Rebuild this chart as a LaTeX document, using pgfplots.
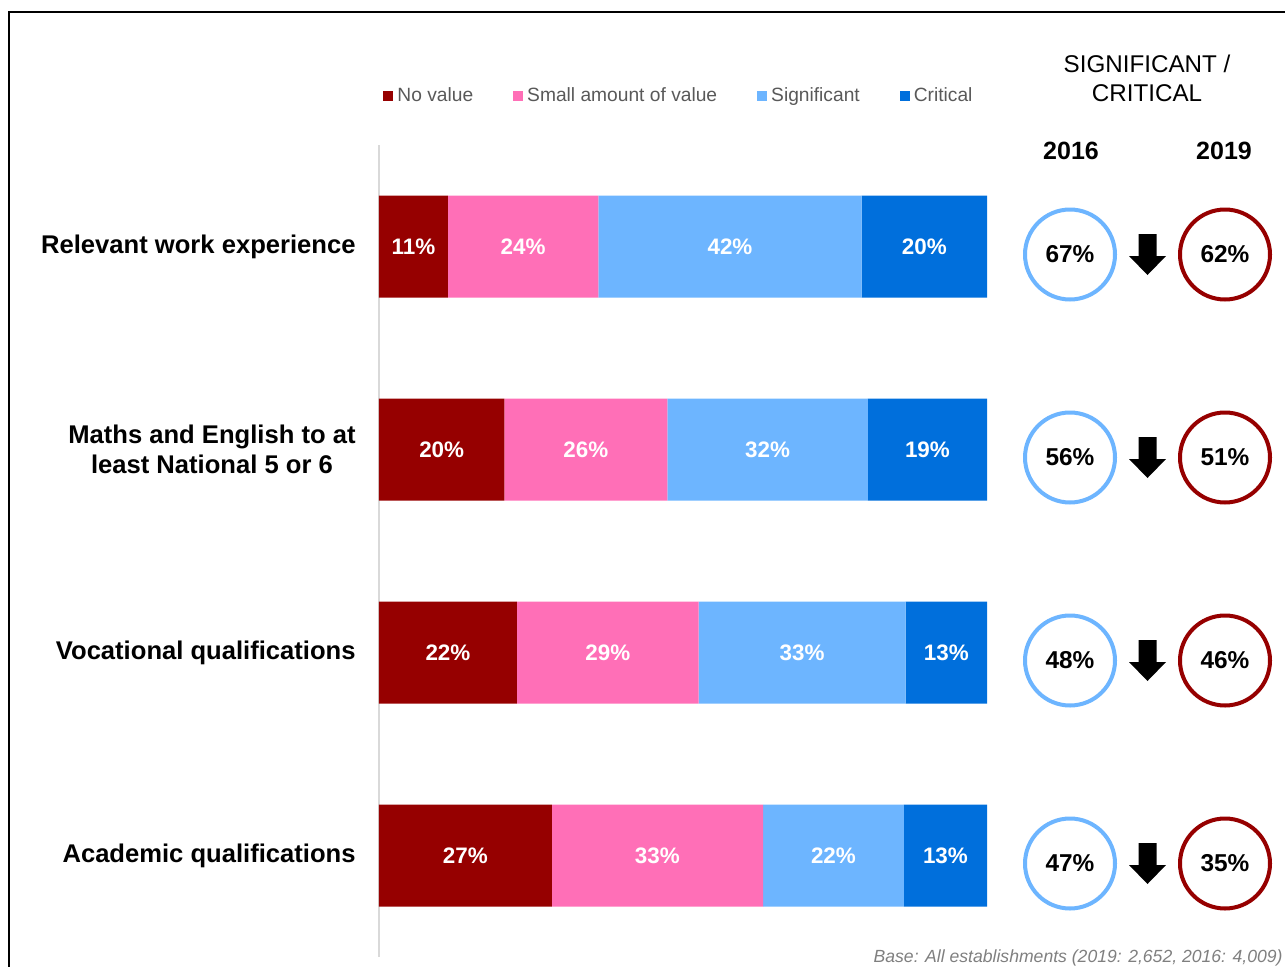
\documentclass[border=0pt]{standalone}
\usepackage{fontspec}
\setmainfont{Liberation Sans}
\usepackage{pgfplots}
\pgfplotsset{compat=1.18}

\definecolor{novalue}{HTML}{960000}
\definecolor{smallval}{HTML}{FF6FB7}
\definecolor{signif}{HTML}{6DB5FF}
\definecolor{critical}{HTML}{006FDC}
\definecolor{legtext}{HTML}{595959}
\definecolor{basetext}{HTML}{7F7F7F}

% thick down arrow between the two circles
\pgfdeclareplotmark{bigdown}{%
  \pgfpathmoveto{\pgfpoint{-4.5pt}{10.25pt}}%
  \pgfpathlineto{\pgfpoint{4.5pt}{10.25pt}}%
  \pgfpathlineto{\pgfpoint{4.5pt}{-0.75pt}}%
  \pgfpathlineto{\pgfpoint{9.25pt}{-0.75pt}}%
  \pgfpathlineto{\pgfpoint{0pt}{-10.25pt}}%
  \pgfpathlineto{\pgfpoint{-9.25pt}{-0.75pt}}%
  \pgfpathlineto{\pgfpoint{-4.5pt}{-0.75pt}}%
  \pgfpathclose
  \pgfusepathqfill}

\begin{document}
\begin{tikzpicture}
\path[use as bounding box] (0,0) rectangle (642.5pt,-483.5pt);
\draw[line width=1pt] (4.5pt,-490pt) -- (4.5pt,-6.25pt) -- (650pt,-6.25pt);

% shares of each bar (labels give the rounded survey figures)
\begin{axis}[
    at={(189.5pt,-72.5pt)}, anchor=north west,
    scale only axis, width=304pt, height=406pt,
    xbar stacked, bar width=51pt,
    xmin=0, xmax=100, ymin=-0.5, ymax=3.5, y dir=reverse,
    axis x line=none, axis y line*=left,
    y axis line style={-, draw=gray!30, line width=0.8pt},
    ytick={0,1,2,3},
    yticklabels={Relevant work experience, {Maths and English to at\\least National 5 or 6}, Vocational qualifications, Academic qualifications},
    major tick length=0pt,
    yticklabel style={align=center, font=\bfseries\fontsize{12.8}{15}\selectfont, inner sep=0pt, xshift=-11.5pt},
    point meta=explicit symbolic,
    nodes near coords={\pgfplotspointmeta},
    nodes near coords align=center,
    every node near coord/.append style={anchor=center, text=white, font=\bfseries\fontsize{11.2}{13}\selectfont},
    legend image code/.code={\fill[#1] (0pt,-2.5pt) rectangle (5pt,2.5pt);},
    legend style={at={(0.495,1.06)}, anchor=center, draw=none, fill=none, legend columns=-1,
        font=\fontsize{9.6}{11}\selectfont, text=legtext,
        /tikz/every even column/.append style={column sep=18pt},
        /tikz/every odd column/.append style={column sep=0pt}},
]
\addplot[fill=novalue, draw=none] coordinates {(11.34,0) [11\%] (20.62,1) [20\%] (22.68,2) [22\%] (28.42,3) [27\%]};
\addplot[fill=smallval, draw=none] coordinates {(24.74,0) [24\%] (26.80,1) [26\%] (29.90,2) [29\%] (34.74,3) [33\%]};
\addplot[fill=signif, draw=none] coordinates {(43.30,0) [42\%] (32.99,1) [32\%] (34.02,2) [33\%] (23.16,3) [22\%]};
\addplot[fill=critical, draw=none] coordinates {(20.62,0) [20\%] (19.59,1) [19\%] (13.40,2) [13\%] (13.68,3) [13\%]};
\legend{No value, Small amount of value, Significant, Critical}
\end{axis}

% significant / critical totals, 2016 vs 2019
\begin{axis}[
    at={(535pt,-76.5pt)}, anchor=north west,
    scale only axis, width=77.5pt, height=406pt,
    xmin=0, xmax=1, ymin=-0.5, ymax=3.5, y dir=reverse,
    hide axis, clip=false,
]
\addplot[only marks, mark=*, mark size=22.5pt, mark options={draw=signif, fill=white, line width=2pt},
    point meta=explicit symbolic, nodes near coords={\pgfplotspointmeta}, nodes near coords align=center,
    every node near coord/.append style={anchor=center, font=\bfseries\fontsize{12.2}{14}\selectfont}]
    coordinates {(0,0) [67\%] (0,1) [56\%] (0,2) [48\%] (0,3) [47\%]};
\addplot[only marks, mark=*, mark size=22.5pt, mark options={draw=novalue, fill=white, line width=2pt},
    point meta=explicit symbolic, nodes near coords={\pgfplotspointmeta}, nodes near coords align=center,
    every node near coord/.append style={anchor=center, font=\bfseries\fontsize{12.2}{14}\selectfont}]
    coordinates {(1,0) [62\%] (1,1) [51\%] (1,2) [46\%] (1,3) [35\%]};
\addplot[only marks, mark=bigdown, black] coordinates {(0.5,0) (0.5,1) (0.5,2) (0.5,3)};
\end{axis}

\node[align=center, font=\fontsize{12.1}{14.5}\selectfont] at (573.5pt,-39pt) {SIGNIFICANT /\\CRITICAL};
\node[font=\bfseries\fontsize{12.5}{15}\selectfont] at (535.5pt,-75.5pt) {2016};
\node[font=\bfseries\fontsize{12.5}{15}\selectfont] at (612pt,-75.5pt) {2019};
\node[anchor=east, inner sep=0pt, text=basetext, font=\itshape\fontsize{8.8}{10}\selectfont] at (641.5pt,-479pt) {Base: All establishments (2019: 2,652, 2016: 4,009)};
\end{tikzpicture}
\end{document}
